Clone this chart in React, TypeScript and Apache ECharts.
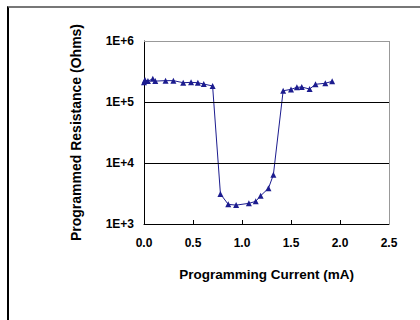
import React, { useEffect, useRef } from "react";
import * as echarts from "echarts";

const currents = [0.0, 0.01, 0.04, 0.09, 0.115, 0.22, 0.3, 0.4, 0.48, 0.55, 0.61, 0.7, 0.78, 0.86, 0.94, 1.07, 1.14, 1.19, 1.27, 1.32, 1.42, 1.5, 1.56, 1.61, 1.69, 1.75, 1.85, 1.92];
const resistances = [210000, 230000, 220000, 240000, 220000, 224000, 224000, 207000, 210000, 207000, 197000, 183000, 3100, 2100, 2040, 2180, 2350, 2900, 3850, 6400, 153000, 161000, 174000, 176000, 163000, 195000, 203000, 218000];
const xTicks = [0, 0.5, 1.0, 1.5, 2.0, 2.5];
const yMin = 1000;
const yMax = 1000000;
const gridValues = [10000, 100000];
const yName = "Programmed Resistance (Ohms)";
const xName = "Programming Current (mA)";

export default function App() {
  const ref = useRef<HTMLDivElement>(null);
  useEffect(() => {
    if (!ref.current) return;
    const chart = echarts.init(ref.current, null, { renderer: "svg" });
    const font = "Liberation Sans, Arial, sans-serif";
    const xMax = xTicks[xTicks.length - 1];
    chart.setOption({
      animation: false,
      grid: { left: 144, top: 41, right: 31, bottom: 96, show: false },
      xAxis: {
        type: "value",
        min: xTicks[0],
        max: xMax,
        interval: 0.5,
        name: xName,
        nameLocation: "middle",
        nameGap: 43,
        nameTextStyle: { fontFamily: font, fontWeight: "bold", fontSize: 13.5, color: "#000" },
        axisLine: { show: true, lineStyle: { color: "#000", width: 1 } },
        axisTick: { show: true, inside: true, length: 4, lineStyle: { color: "#000" } },
        splitLine: { show: false },
        axisLabel: { fontFamily: font, fontWeight: "bold", fontSize: 12, color: "#000", margin: 13, formatter: (v: number) => v.toFixed(1) },
      },
      yAxis: {
        type: "log",
        logBase: 10,
        min: yMin,
        max: yMax,
        name: yName,
        nameLocation: "middle",
        nameGap: 61,
        nameTextStyle: { fontFamily: font, fontWeight: "bold", fontSize: 14, color: "#000" },
        axisLine: { show: true, lineStyle: { color: "#000", width: 1 } },
        axisTick: { show: false },
        splitLine: { show: false },
        axisLabel: {
          fontFamily: font, fontWeight: "bold", fontSize: 12, color: "#000", margin: 10,
          formatter: (v: number) => "1E+" + Math.round(Math.log10(v)),
        },
      },
      series: [
        {
          type: "line",
          data: currents.map((c, i) => [c, resistances[i]]),
          symbol: "triangle",
          symbolSize: 6,
          itemStyle: { color: "#1c1c8f" },
          lineStyle: { color: "#1c1c8f", width: 1 },
          z: 3,
          markLine: {
            silent: true,
            symbol: "none",
            label: { show: false },
            data: [
              ...gridValues.map((v) => ({ yAxis: v, lineStyle: { color: "#000", width: 1, type: "solid" } })),
              { yAxis: yMax, lineStyle: { color: "#999", width: 1, type: "solid" } },
              { xAxis: xMax, lineStyle: { color: "#999", width: 1, type: "solid" } },
            ],
          },
        },
      ],
    });
    return () => chart.dispose();
  }, []);
  return (
    <div style={{ position: "fixed", left: 0, top: 0, width: 420, height: 320, background: "#fff", overflow: "hidden" }}>
      <div style={{ position: "absolute", left: 7, top: 6, width: 500, height: 400, borderLeft: "2px solid #000", borderTop: "2px solid #777" }} />
      <div ref={ref} style={{ position: "absolute", left: 0, top: 0, width: 420, height: 320 }} />
    </div>
  );
}
